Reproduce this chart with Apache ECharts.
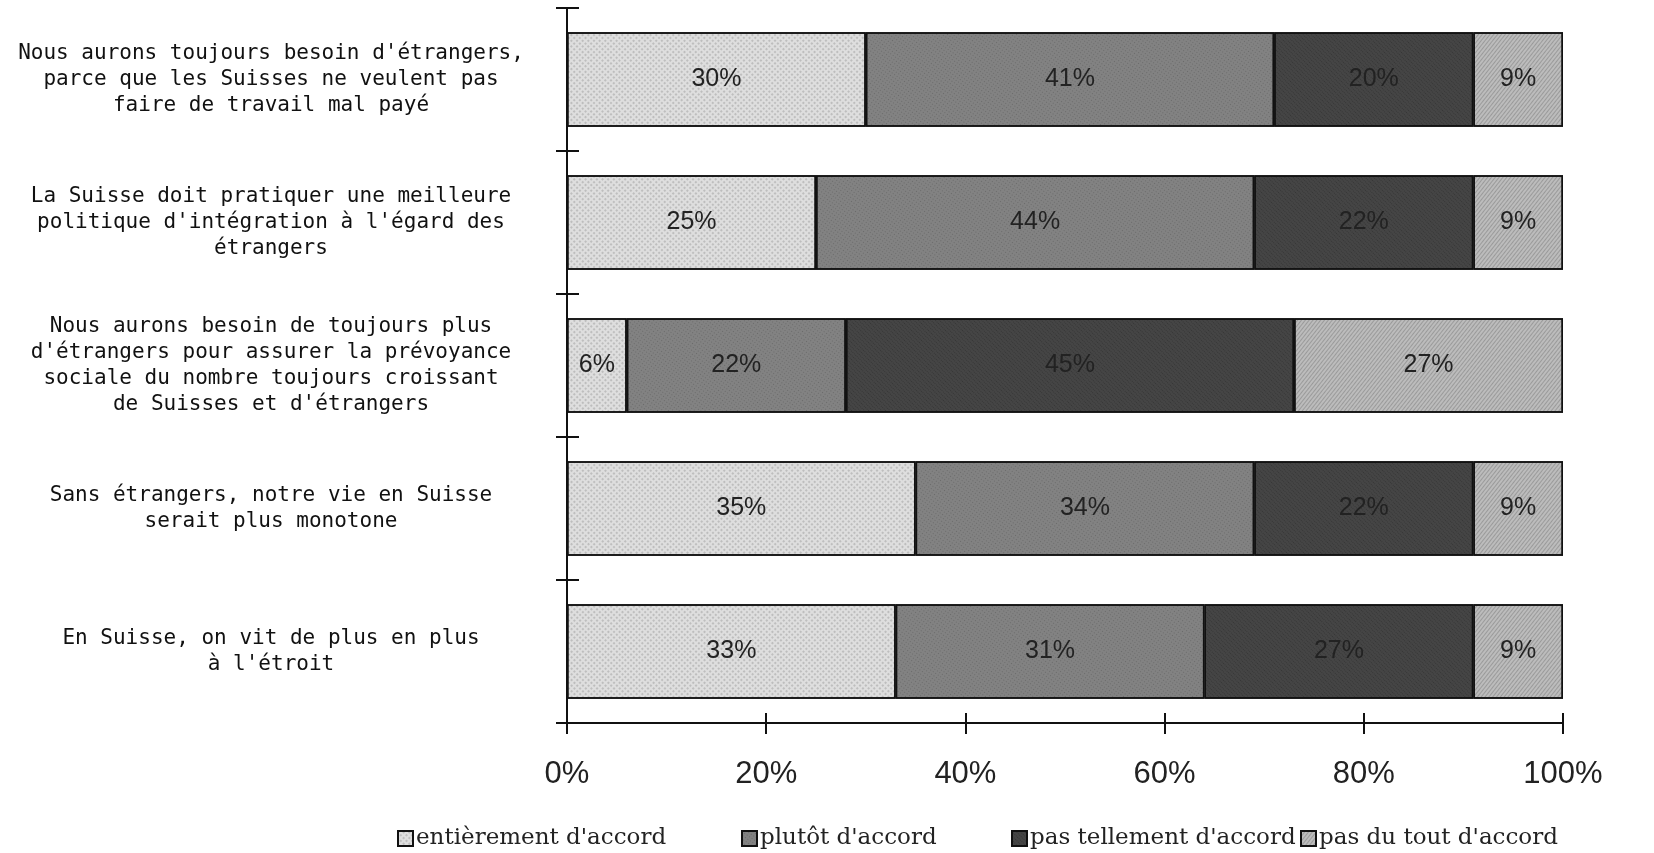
<!DOCTYPE html>
<html>
<head>
<meta charset="utf-8">
<script src="https://cdn.jsdelivr.net/npm/echarts@6/dist/echarts.min.js"></script>
<style>
html,body{margin:0;padding:0;background:#fff;}
#chart{width:1654px;height:853px;}
</style>
</head>
<body>
<div id="chart"></div>
<script>
const categories = [
  "Nous aurons toujours besoin d'étrangers,\nparce que les Suisses ne veulent pas\nfaire de travail mal payé",
  "La Suisse doit pratiquer une meilleure\npolitique d'intégration à l'égard des\nétrangers",
  "Nous aurons besoin de toujours plus\nd'étrangers pour assurer la prévoyance\nsociale du nombre toujours croissant\nde Suisses et d'étrangers",
  "Sans étrangers, notre vie en Suisse\nserait plus monotone",
  "En Suisse, on vit de plus en plus\nà l'étroit"
];
const seriesNames = ["entièrement d'accord", "plutôt d'accord", "pas tellement d'accord", "pas du tout d'accord"];
const entierement = [30, 25, 6, 35, 33];
const plutot = [41, 44, 22, 34, 31];
const pasTellement = [20, 22, 45, 22, 27];
const pasDuTout = [9, 9, 27, 9, 9];
const xTicks = [0, 20, 40, 60, 80, 100];

const seriesValues = [entierement, plutot, pasTellement, pasDuTout];
const colors = ['#dedede', '#828282', '#454545', '#bcbcbc'];
const decals = [
  { symbol: 'circle', symbolSize: 0.9, color: 'rgba(0,0,0,0.22)', dashArrayX: [2, 2], dashArrayY: [2, 2], rotation: 0.785 },
  { symbol: 'rect', symbolSize: 1, color: 'rgba(0,0,0,0.18)', dashArrayX: [1, 2], dashArrayY: [1, 2], rotation: 0.6 },
  { symbol: 'rect', symbolSize: 1, color: 'rgba(0,0,0,0.22)', dashArrayX: [1, 1], dashArrayY: [1, 2], rotation: 0.785 },
  { symbol: 'rect', symbolSize: 1, color: 'rgba(0,0,0,0.18)', dashArrayX: [[1, 0]], dashArrayY: [1, 2], rotation: -0.9 }
];

const chart = echarts.init(document.getElementById('chart'));
const series = seriesValues.map((vals, i) => ({
  name: seriesNames[i],
  type: 'bar',
  stack: 'total',
  barWidth: '66%',
  xAxisIndex: 0,
  yAxisIndex: 0,
  data: vals,
  itemStyle: { color: colors[i], borderColor: '#111', borderWidth: 1.5, decal: decals[i] },
  label: {
    show: true,
    position: 'inside',
    formatter: '{c}%',
    fontFamily: 'Liberation Sans',
    fontSize: 25,
    color: '#222'
  }
}));

const legendLefts = [392, 736, 1006, 1295];
const legends = seriesNames.map((n, i) => ({
  data: [n],
  left: legendLefts[i],
  top: 822,
  icon: 'rect',
  itemWidth: 15,
  itemHeight: 15,
  textStyle: { fontFamily: 'DejaVu Serif', fontSize: 23, color: '#222', padding: [0, 0, 0, -2] }
}));

chart.setOption({
  backgroundColor: '#fff',
  animation: false,
  legend: legends,
  grid: { left: 567, right: 91, top: 8, bottom: 130, containLabel: false },
  xAxis: [
    {
      type: 'value', min: 0, max: 100, interval: 20, position: 'bottom',
      axisLine: { show: true, lineStyle: { color: '#111', width: 2 } },
      axisTick: { show: true, inside: false, length: 11, lineStyle: { color: '#111', width: 2 } },
      splitLine: { show: false },
      axisLabel: { formatter: v => xTicks.includes(v) ? v + '%' : '', fontFamily: 'Liberation Sans', fontSize: 31, color: '#222', margin: 36 }
    },
    {
      type: 'value', min: 0, max: 100, interval: 20, position: 'bottom',
      axisLine: { show: false },
      axisTick: { show: true, inside: true, length: 10, lineStyle: { color: '#111', width: 2 } },
      splitLine: { show: false },
      axisLabel: { show: false }
    }
  ],
  yAxis: [
    {
      type: 'category', inverse: true, data: categories, position: 'left',
      axisLine: { show: true, lineStyle: { color: '#111', width: 2 } },
      axisTick: { show: true, inside: false, length: 11, lineStyle: { color: '#111', width: 2 } },
      axisLabel: { align: 'center', margin: 296, fontFamily: 'DejaVu Sans Mono', fontSize: 21, lineHeight: 26, color: '#111' }
    },
    {
      type: 'category', inverse: true, data: categories, position: 'left',
      axisLine: { show: false },
      axisTick: { show: true, inside: true, length: 12, lineStyle: { color: '#111', width: 2 } },
      axisLabel: { show: false }
    }
  ],
  series: series
});
</script>
</body>
</html>
